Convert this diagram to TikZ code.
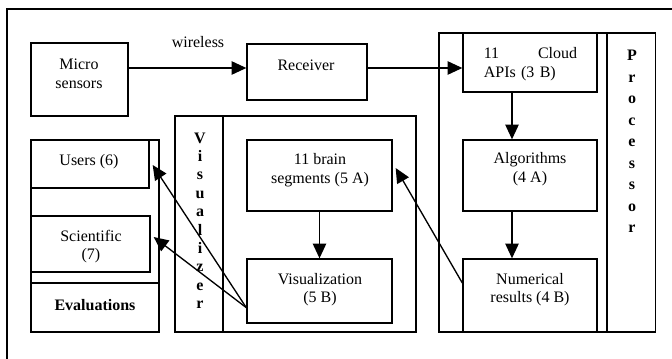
\documentclass[tikz,border=0pt]{standalone}
\usepackage{fontspec}
\setmainfont{Liberation Serif}
\usepackage{tikz}
\usetikzlibrary{positioning,calc,arrows.meta}
\tikzstyle{box} = [rectangle, draw=black, line width=1pt, inner sep=0pt]
\tikzstyle{lbl} = [align=center, inner sep=0pt, font=\fontsize{12}{14}\selectfont]
\tikzstyle{letter} = [inner sep=0pt, anchor=base, font=\fontsize{12}{14}\selectfont\bfseries]
\tikzstyle{arrow} = [line width=1pt, -{Triangle[length=11pt, width=10pt]}]

\begin{document}
\begin{tikzpicture}[x=0.75pt, y=0.75pt]

	\clip (0,0) rectangle (672,358);
	\draw [line width=1.2pt] (7,349) rectangle (700,-20);

	\coordinate (lane) at (0,290);
	\coordinate (col) at (512,0);

	% boxes
	\node (micro) [box, minimum width=72.75pt, minimum height=54.75pt] at (79.5,278.5) {};
	\node (receiver) [box, minimum width=90pt, minimum height=42pt] at (307,286) {};

	\node (procbox) [box, minimum width=126pt, minimum height=224.25pt] at (523,175.5) {};
	\node (proccol) [box, minimum width=36pt, minimum height=224.25pt] at (631.5,175.5) {};
	\node (cloud) [box, minimum width=100.5pt, minimum height=44.25pt] at (530,295.5) {};
	\node (algo) [box, minimum width=100.5pt, minimum height=53.25pt] at (530,182.5) {};
	\node (numres) [box, minimum width=100.5pt, minimum height=54.75pt] at (530,62.5) {};

	\node (vizcol) [box, minimum width=36pt, minimum height=162pt] at (199,134) {};
	\node (vizbox) [box, minimum width=144.75pt, minimum height=162pt] at (319.5,134) {};
	\node (brain) [box, minimum width=108.75pt, minimum height=53.25pt] at (319.5,182.5) {};
	\node (visual) [box, minimum width=108.75pt, minimum height=48pt] at (319.5,67) {};

	\node (evalcol) [box, minimum width=96pt, minimum height=144pt] at (95,122) {};
	\node (users) [box, minimum width=88.5pt, minimum height=36pt] at (90,194) {};
	\node (sci) [box, minimum width=89.25pt, minimum height=42pt] at (90.5,114) {};
	\node (evalbox) [box, minimum width=96pt, minimum height=36.75pt] at (95,50.5) {};

	% texts
	\node (wireless) [lbl] at (198,316) {wireless};
	\node (microtxt) [lbl] at (79,284.5) {Micro\\sensors};
	\node (receivertxt) [lbl] at (306,293) {Receiver};
	\node (cloudtxt) [lbl, align=left, text width=70pt] at (530.5,294) {11\hfill Cloud\\APIs (3 B)};
	\node (algotxt) [lbl] at (530,189) {Algorithms\\(4 A)};
	\node (numrestxt) [lbl] at (530,68.5) {Numerical\\results (4 B)};
	\node (braintxt) [lbl] at (320,187.5) {11 brain\\segments (5 A)};
	\node (visualtxt) [lbl] at (320,68.5) {Visualization\\(5 B)};
	\node (userstxt) [lbl] at (89,196) {Users (6)};
	\node (scitxt) [lbl] at (91,111.5) {Scientific\\(7)};
	\node (evaltxt) [lbl, font=\fontsize{12}{14}\selectfont\bfseries] at (95,53) {Evaluations};

	% vertical titles, one letter per row
	\foreach \c [count=\i from 0] in {V,i,s,u,a,l,i,z,e,r}
		\node (viz-\i) [letter] at (200,215-18.4*\i) {\c};
	\foreach \c [count=\i from 0] in {P,r,o,c,e,s,s,o,r}
		\node (proc-\i) [letter] at (632,297.4-21.5*\i) {\c};

	% connectors
	\draw [arrow] (micro.east |- lane) -- (receiver.west |- lane);
	\draw [arrow] (receiver.east |- lane) -- (cloud.west |- lane);
	\draw [arrow] (cloud.south -| col) -- (algo.north -| col);
	\draw [arrow] (algo.south -| col) -- (numres.north -| col);
	\draw [arrow] (brain) -- (visual);
	\draw [arrow] ($(numres.west)+(0,12.5)$) -- ($(brain.east)+(3,7.5)$);
	\draw [arrow] ([yshift=12pt]visual.south west) -- ($(users.east)+(3,-1)$);
	\draw [arrow] ([yshift=12pt]visual.south west) -- ($(sci.east)+(3,7)$);

\end{tikzpicture}
\end{document}
